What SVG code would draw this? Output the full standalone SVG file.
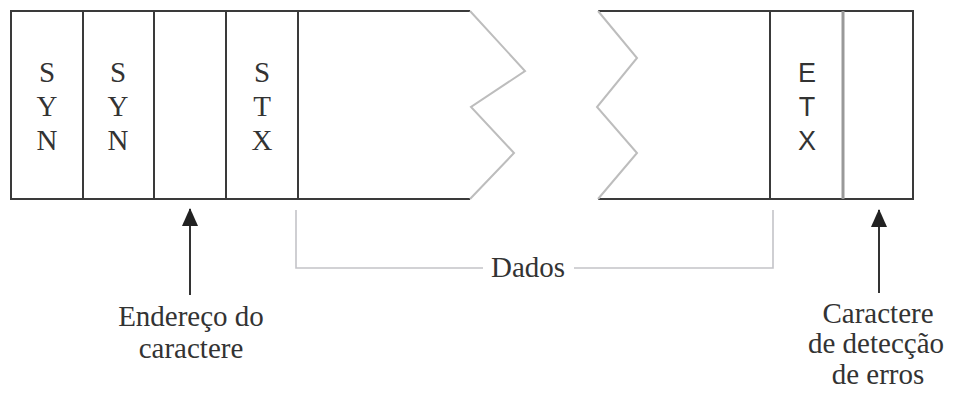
<svg xmlns="http://www.w3.org/2000/svg" width="955" height="396" viewBox="0 0 955 396">
<style>
.frame{fill:none;stroke:#3a3a3a;stroke-width:2}
.zig{fill:none;stroke:#bdbdbd;stroke-width:2}
.br{fill:none;stroke:#c4c4c8;stroke-width:1.6}
.t{font-family:"Liberation Serif",serif;font-size:29px;fill:#333;text-anchor:middle}
.ts{font-family:"Liberation Sans",sans-serif;font-size:27px;fill:#333;text-anchor:middle}
.lb{font-family:"Liberation Serif",serif;font-size:29px;fill:#333;text-anchor:middle}
.ar{stroke:#333;stroke-width:2;fill:none}
</style>
<defs>
<marker id="ah" viewBox="0 0 18 16" refX="17" refY="8" markerWidth="18" markerHeight="16" markerUnits="userSpaceOnUse" orient="auto">
<path d="M0,0 L18,8 L0,16 z" fill="#222"/>
</marker>
</defs>
<rect width="955" height="396" fill="#fff"/>
<g id="frame-left">
<path class="frame" d="M470,11 H11 V199 H470"/>
<path class="zig" d="M470,11 L525,71 L471,107 L514,153 L470,199"/>
</g>
<g id="frame-right">
<path class="frame" d="M598,11 H913 V199 H598"/>
<path class="zig" d="M598,11 L637,58 L597,107 L637,153 L598,199"/>
</g>
<g id="syn1"><line class="frame" x1="83" y1="11" x2="83" y2="199"/>
<text class="t" x="47" y="82">S</text><text class="t" x="47" y="116">Y</text><text class="t" x="47" y="150">N</text></g>
<g id="syn2"><line class="frame" x1="154" y1="11" x2="154" y2="199"/>
<text class="t" x="118" y="82">S</text><text class="t" x="118" y="116">Y</text><text class="t" x="118" y="150">N</text></g>
<g id="addr"><line class="frame" x1="226" y1="11" x2="226" y2="199"/></g>
<g id="stx"><line class="frame" x1="298" y1="11" x2="298" y2="199"/>
<text class="t" x="262" y="82">S</text><text class="t" x="262" y="116">T</text><text class="t" x="262" y="150">X</text></g>
<g id="etx"><line class="frame" x1="770" y1="11" x2="770" y2="199"/>
<text class="ts" x="807" y="82">E</text><text class="ts" x="807" y="116">T</text><text class="ts" x="807" y="150">X</text></g>
<g id="bcc"><line x1="843" y1="11" x2="843" y2="199" stroke="#999" stroke-width="3"/></g>
<g id="connectors">
<line class="ar" x1="190" y1="295" x2="190" y2="209" marker-end="url(#ah)"/>
<line class="ar" x1="879" y1="293" x2="879" y2="210" marker-end="url(#ah)"/>
<path class="br" d="M296,210 V268 H483 M574,268 H773 V210"/>
</g>
<g id="labels">
<text class="lb" x="528" y="277">Dados</text>
<text class="lb" x="191" y="326">Endereço do</text>
<text class="lb" x="191" y="358">caractere</text>
<text class="lb" x="878" y="323">Caractere</text>
<text class="lb" x="876" y="353">de detecção</text>
<text class="lb" x="878" y="384">de erros</text>
</g>
</svg>
